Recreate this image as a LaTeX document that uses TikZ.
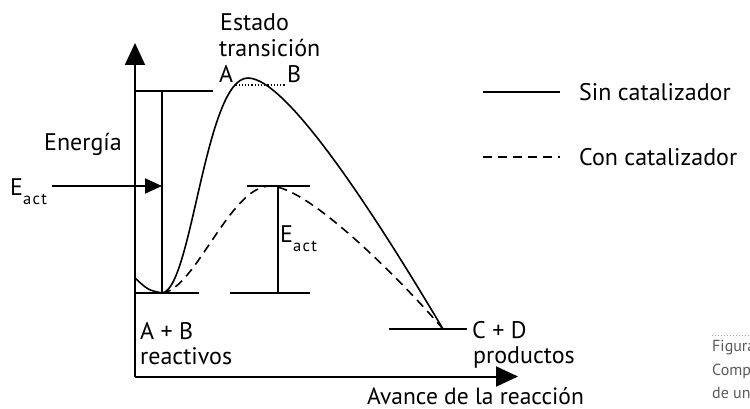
\documentclass[tikz,border=0pt]{standalone}
\usepackage{fontspec}
\setmainfont{PT Sans}
\usetikzlibrary{arrows.meta,positioning,calc}
\definecolor{enink}{RGB}{0,0,0}
\definecolor{encap}{RGB}{90,90,90}
\definecolor{endot}{RGB}{238,150,70}
\tikzset{
  axis/.style={draw=enink, line width=2pt, -{Triangle[length=22pt,width=20pt]}},
  lvl/.style={draw=enink, line width=2pt},
  curve/.style={draw=enink, line width=1.6pt},
  dcurve/.style={curve, dash pattern=on 9pt off 6pt},
  earr/.style={draw=enink, line width=2pt, -{Triangle[length=17pt,width=15pt]}},
  lbl/.style={font=\fontsize{24}{26}\selectfont, inner sep=0pt, anchor=base west},
  captxt/.style={font=\fontsize{16}{18}\selectfont, text=encap, inner sep=0pt, anchor=base west},
}
\newcommand{\eact}{E\raisebox{-9pt}{\fontsize{16.5}{16.5}\selectfont a\kern0.08em c\kern0.08em t}}

\begin{document}
\begin{tikzpicture}[x=1pt,y=-1pt]
  \useasboundingbox (0,0) rectangle (750,409);
  \clip (0,0) rectangle (750,409);
  % axes
  \coordinate (orig) at (135,376.5);
  \coordinate (ytip) at (135,43);
  \coordinate (xtip) at (518,376.5);
  \draw[axis] (orig) -- (ytip);
  \draw[axis] (orig) -- (xtip);
  % energy levels
  \coordinate (react) at (162,293);
  \coordinate (prod) at (443,329);
  \coordinate (peak) at (248,78);
  \coordinate (cpeak) at (270,186);
  \coordinate (topL) at (135,90.7);
  \coordinate (topR) at (213,90.7);
  \coordinate (topV) at (162,90.7);
  \coordinate (reL) at (135,293);
  \coordinate (reR) at (199,293);
  \coordinate (re2L) at (230,293);
  \coordinate (re2R) at (310,293);
  \coordinate (re2V) at (278,293);
  \coordinate (caL) at (247,186);
  \coordinate (caR) at (310,186);
  \coordinate (caV) at (278,186);
  \coordinate (prL) at (389,329);
  \coordinate (prR) at (467,329);
  \draw[lvl] (topL) -- (topR);
  \draw[lvl] (topV) -- (react);
  \draw[lvl] (reL) -- (reR);
  \draw[lvl] (re2L) -- (re2R);
  \draw[lvl] (caL) -- (caR);
  \draw[lvl] (caV) -- (re2V);
  \draw[lvl] (prL) -- (prR);
  % profiles
  \draw[curve] (135,278) .. controls (148,290) .. (react)
    .. controls (192,290) and (205,78) .. (peak)
    .. controls (290,78) and (390,240) .. (prod);
  \draw[dcurve] (react) .. controls (195,290) and (230,186) .. (cpeak)
    .. controls (310,186) and (410,290) .. (prod);
  % labels
  \node[lbl] (energia) at (44,151) {Energía};
  \node[lbl] (eactL) at (10,196) {\eact};
  \coordinate (ea0) at (52,186);
  \coordinate (ea1) at (162,186);
  \draw[earr] (ea0) -- (ea1);
  \node[lbl] (eactM) at (280,242) {\eact};
  \node[lbl] (estado) at (220,31) {Estado};
  \node[lbl] (trans) at (219,57) {transición};
  \node[lbl] (tsA) at (219,83) {A};
  \node[lbl] (tsB) at (287,83) {B};
  \draw[line width=1.2pt, dotted] ([xshift=2pt,yshift=-2pt]tsA.base east) -- ([xshift=-1pt,yshift=-2pt]tsB.base west);
  \node[lbl] (ab) at (140,339) {A + B};
  \node[lbl] (reac) at (140,364) {reactivos};
  \node[lbl] (cd) at (472,338) {C + D};
  \node[lbl] (produc) at (473,363) {productos};
  \node[lbl, font=\fontsize{23.5}{25}\selectfont] (avance) at (367,404) {Avance de la reacción};
  % legend
  \coordinate (sinL) at (483,92);
  \coordinate (sinR) at (560,92);
  \coordinate (conL) at (483,157);
  \coordinate (conR) at (560,157);
  \draw[curve] (sinL) -- (sinR);
  \draw[dcurve] (conL) -- (conR);
  \node[lbl] (sin) at (579,100.5) {Sin catalizador};
  \node[lbl] (con) at (579,165.5) {Con catalizador};
  % caption
  \coordinate (dotL) at (712,335);
  \coordinate (dotR) at (750,335);
  \draw[endot, line width=1pt, dotted] (dotL) -- (dotR);
  \node[captxt] (fig) at (712,351) {Figura};
  \node[captxt] (comp) at (712,375) {Comp};
  \node[captxt] (deun) at (712,398) {de un};
\end{tikzpicture}
\end{document}
